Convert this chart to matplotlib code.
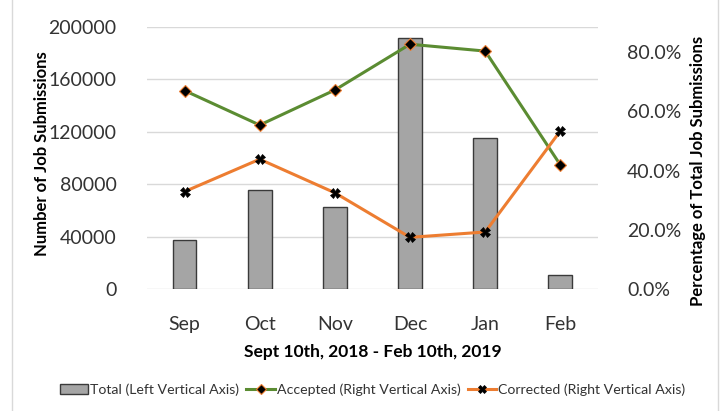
import matplotlib
matplotlib.use("Agg")
import matplotlib.pyplot as plt
from matplotlib.ticker import PercentFormatter
from matplotlib.lines import Line2D
from matplotlib.patches import Patch

months = ["Sep", "Oct", "Nov", "Dec", "Jan", "Feb"]
total = [37500, 75600, 62600, 191400, 115000, 10700]
accepted = [0.669, 0.553, 0.671, 0.825, 0.802, 0.419]
corrected = [0.329, 0.438, 0.325, 0.175, 0.193, 0.533]

plt.rcParams["font.family"] = ["Lato", "DejaVu Sans"]
TXT = "#333333"

fig = plt.figure(figsize=(7.22, 4.11), dpi=100)
ax = fig.add_axes([0.2036, 0.296, 0.6245, 0.639])
ax2 = ax.twinx()

x = range(len(months))
ax.bar(x, total, width=0.315, color="#A5A5A5", edgecolor="#3A3A3A", linewidth=1, zorder=2)
ax.set_ylim(0, 200000)
ax.set_yticks(range(0, 200001, 40000))
ax.set_xlim(-0.5, len(months) - 0.5)
ax.set_xticks(list(x))
ax.set_xticklabels(months)
ax.yaxis.grid(True, color="#D9D9D9", linewidth=1)
ax.set_axisbelow(True)
for s in ax.spines.values():
    s.set_visible(False)
for s in ax2.spines.values():
    s.set_visible(False)
ax.tick_params(axis="both", length=0, labelsize=14, colors=TXT)
ax.tick_params(axis="y", pad=22)
ax.tick_params(axis="x", pad=19)

ax2.plot(x, accepted, color="#5B8C32", linewidth=2.2, marker="D", markersize=6,
         markerfacecolor="black", markeredgecolor="#ED7D31", markeredgewidth=0.8, zorder=3)
ax2.plot(x, corrected, color="#ED7D31", linewidth=2.2, marker="X", markersize=7,
         markerfacecolor="black", markeredgecolor="black", markeredgewidth=0.5, zorder=3)
ax2.set_ylim(0, 0.884)
ax2.set_yticks([0, 0.2, 0.4, 0.6, 0.8])
ax2.yaxis.set_major_formatter(PercentFormatter(1.0, decimals=1))
ax2.tick_params(axis="y", length=0, labelsize=14, colors=TXT, pad=21)

ax.set_ylabel("Number of Job Submissions", fontsize=12, fontweight="bold", color="black")
ax.yaxis.set_label_coords(-0.215, 0.515)
ax2.set_ylabel("Percentage of Total Job Submissions", fontsize=12, fontweight="bold", color="black")
ax2.yaxis.set_label_coords(1.204, 0.45)
ax.set_xlabel("Sept 10th, 2018 - Feb 10th, 2019", fontsize=12.5, fontweight="bold", color="black")
ax.xaxis.set_label_coords(0.5, -0.208)

handles = [
    Patch(facecolor="#A5A5A5", edgecolor="#3A3A3A", linewidth=1),
    Line2D([], [], color="#5B8C32", linewidth=2.2, marker="D", markersize=5,
           markerfacecolor="black", markeredgecolor="#ED7D31", markeredgewidth=0.8),
    Line2D([], [], color="#ED7D31", linewidth=2.2, marker="X", markersize=6,
           markerfacecolor="black", markeredgecolor="black", markeredgewidth=0.5),
]
labels = ["Total (Left Vertical Axis)", "Accepted (Right Vertical Axis)", "Corrected (Right Vertical Axis)"]
fig.legend(handles, labels, loc="center", bbox_to_anchor=(372.5 / 722, 1 - 390 / 411), ncol=3,
           frameon=False, fontsize=10.2, handlelength=2.0, handletextpad=0.15, columnspacing=0.5,
           labelcolor=TXT)

# chart border lines at left and right edges
fig.add_artist(Line2D([12 / 722, 12 / 722], [0, 1], color="#D9D9D9", linewidth=1, transform=fig.transFigure))
fig.add_artist(Line2D([718 / 722, 718 / 722], [0, 1], color="#D9D9D9", linewidth=1, transform=fig.transFigure))

fig.savefig("out.png", dpi=100)
